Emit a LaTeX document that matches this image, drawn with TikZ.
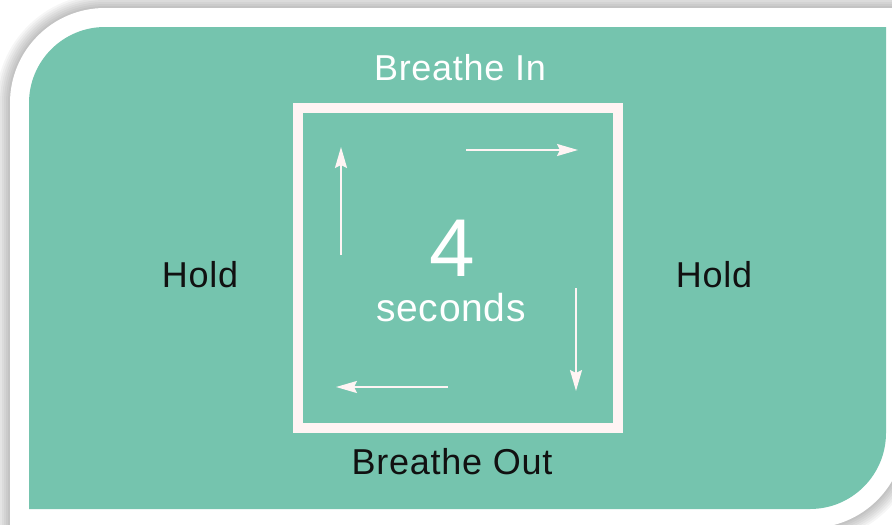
\documentclass[tikz,border=0pt]{standalone}
\usepackage{fontspec}
\setmainfont{Liberation Sans}
\newfontfamily\lblfont[LetterSpace=2]{Liberation Sans}
\usetikzlibrary{arrows.meta}
\definecolor{teal1}{HTML}{75C4AE}
\definecolor{sqwhite}{HTML}{FFF4F4}
\definecolor{txtdark}{HTML}{111111}
\newcommand\cardpath[1]{(10-#1,528+#1) -- (10-#1,103) arc[start angle=180,end angle=270,radius=95+#1] -- (905+#1,8-#1) -- (905+#1,433) arc[start angle=0,end angle=90,radius=95+#1] -- cycle}
\tikzset{
  flow/.style={draw=sqwhite,line width=2pt,-{Stealth[length=21pt,width=12pt,inset=3pt]}},
  lbl/.style={anchor=base,inner sep=0pt,font=\lblfont\fontsize{36}{40}\selectfont},
}
\begin{document}
\begin{tikzpicture}[x=1pt,y=-1pt]
\useasboundingbox (0,0) rectangle (892,525);
\clip (0,0) rectangle (892,525);
\fill[white] (0,0) rectangle (892,525);
% shadow
\foreach \d in {14,12,10,8,6,4,2} {
  \fill[black,opacity=0.035] \cardpath{\d};
}
% card
\fill[white] \cardpath{0};
\fill[teal1] \cardpath{-19};
% square
\draw[sqwhite,line width=10pt] (298,108) rectangle (618,428);
% arrow ends
\coordinate (ta) at (466,150); \coordinate (tb) at (578,150);
\coordinate (la) at (341,255); \coordinate (lb) at (341,147);
\coordinate (ra) at (576,288); \coordinate (rb) at (576,391);
\coordinate (ba) at (448,387); \coordinate (bb) at (336,387);
\draw[flow] (ta) -- (tb);
\draw[flow] (la) -- (lb);
\draw[flow] (ra) -- (rb);
\draw[flow] (ba) -- (bb);
% labels
\node[lbl,text=white] (in) at (460,80) {Breathe In};
\node[lbl,text=txtdark] (out) at (452,474) {Breathe Out};
\node[lbl,text=txtdark] (holdl) at (200,287) {Hold};
\node[lbl,text=txtdark] (holdr) at (714,287) {Hold};
\node[anchor=base,inner sep=0pt,text=white,font=\fontsize{82}{90}\selectfont] (four) at (452,276) {4};
\node[anchor=base,inner sep=0pt,text=white,font=\lblfont\fontsize{39}{44}\selectfont] (sec) at (451,321) {seconds};
\end{tikzpicture}
\end{document}
